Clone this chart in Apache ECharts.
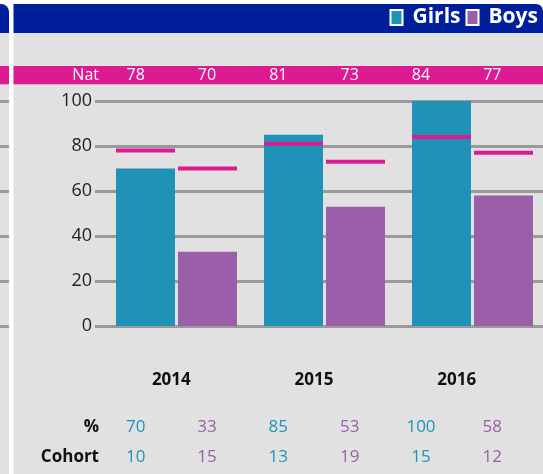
<!DOCTYPE html>
<html>
<head>
<meta charset="utf-8">
<script src="https://cdn.jsdelivr.net/npm/echarts@6/dist/echarts.min.js"></script>
<style>
  html, body { margin: 0; padding: 0; background: #fff; }
  #main { width: 543px; height: 474px; }
</style>
</head>
<body>
<div id="main"></div>
<script>
// data
const years = ['2014', '2015', '2016']
const girls = [70, 85, 100]
const boys = [33, 53, 58]
const natGirls = [78, 81, 84]
const natBoys = [70, 73, 77]
const cohortGirls = [10, 13, 15]
const cohortBoys = [15, 19, 12]

const teal = '#2092b8'
const purple = '#9b5ea8'
const pink = '#dc1b93'
const navy = '#001f9c'
const grey = '#e1e1e1'
const font = 'Open Sans'

// table rows: girls/boys side by side for each year
const natRow = years.flatMap((y, i) => [natGirls[i], natBoys[i]])
const pctRow = years.flatMap((y, i) => [girls[i], boys[i]])
const cohortRow = years.flatMap((y, i) => [cohortGirls[i], cohortBoys[i]])
const cols = natRow.map((v, i) => String(i))

const barW = 59
const barGap = 3

// national marks, one per bar
const natData = []
years.forEach((y, i) => {
    natData.push([i, natGirls[i], 0])
    natData.push([i, natBoys[i], 1])
})

function rowAxis(labels, offset, name, colorFn) {
    return {
        type: 'category', gridIndex: 2, position: 'bottom', offset: offset,
        data: cols,
        axisLine: { show: false }, axisTick: { show: false },
        name: name, nameLocation: 'start', nameGap: 1, nameMoveOverlap: false,
        nameTextStyle: { fontFamily: font, fontSize: 17, fontWeight: 'bold', color: '#111', align: 'right', verticalAlign: 'middle' },
        axisLabel: {
            margin: 0, verticalAlign: 'middle', fontFamily: font, fontSize: 17,
            color: colorFn, formatter: (v, i) => String(labels[i])
        }
    }
}

const chart = echarts.init(document.getElementById('main'))
// Nat row sits on the pink band, above the plot
const natAxis = rowAxis(natRow, -251, '', '#fff')
natAxis.axisLabel.fontSize = 16

const option = {
    backgroundColor: '#fff',
    animation: false,
    graphic: [
        { type: 'rect', z: -10, shape: { x: 0, y: 33, width: 9, height: 441 }, style: { fill: grey } },
        { type: 'rect', z: -10, shape: { x: 13.5, y: 33, width: 530, height: 441 }, style: { fill: grey } },
        { type: 'rect', z: -10, shape: { x: 0, y: 4, width: 9, height: 29, r: [0, 8, 0, 0] }, style: { fill: navy } },
        { type: 'rect', z: -10, shape: { x: 13.5, y: 4, width: 529.5, height: 29, r: [0, 7, 0, 0] }, style: { fill: navy } },
        { type: 'rect', z: -9, shape: { x: 0, y: 66, width: 9, height: 18.3 }, style: { fill: pink } },
        { type: 'rect', z: -9, shape: { x: 13.5, y: 66, width: 530, height: 18.3 }, style: { fill: pink } },
        {
            type: 'text', z: 10, x: 99, y: 75.5,
            style: { text: 'Nat', fill: '#fff', font: '16px "Open Sans"', align: 'right', verticalAlign: 'middle' }
        }
    ],
    legend: {
        data: ['Girls', 'Boys'],
        right: 5, top: 7, padding: 0,
        icon: 'rect', itemWidth: 12, itemHeight: 15, itemGap: 5,
        itemStyle: { borderColor: '#fff', borderWidth: 2 },
        textStyle: { color: '#fff', fontFamily: font, fontSize: 21, fontWeight: 'bold', padding: [0, 0, 0, 5] },
        selectedMode: false
    },
    grid: [
        { left: 95, right: 0, top: 101, height: 225, outerBoundsMode: 'none' },      // gridlines + y labels
        { left: 102.5, width: 444, top: 101, height: 225, outerBoundsMode: 'none' },  // bars
        { left: 100, width: 428, top: 101, height: 225, outerBoundsMode: 'none' },    // table rows
        { left: 0, width: 9, top: 101, height: 225, outerBoundsMode: 'none' }         // left panel stubs
    ],
    xAxis: [
        { type: 'category', gridIndex: 0, data: years, show: false },
        { type: 'category', gridIndex: 1, data: years, show: false },
        natAxis,
        {
            type: 'category', gridIndex: 2, position: 'bottom', offset: 54, data: years,
            axisLine: { show: false }, axisTick: { show: false },
            axisLabel: { margin: 0, verticalAlign: 'middle', fontFamily: font, fontSize: 17, fontWeight: 'bold', color: '#111' }
        },
        rowAxis(pctRow, 101, '%', (v, i) => i % 2 ? purple : teal),
        rowAxis(cohortRow, 131, 'Cohort', (v, i) => i % 2 ? purple : teal),
        { type: 'category', gridIndex: 3, data: years, show: false }
    ],
    yAxis: [
        {
            type: 'value', gridIndex: 0, min: 0, max: 100, interval: 20,
            axisLine: { show: false }, axisTick: { show: false },
            axisLabel: { margin: 3, fontFamily: font, fontSize: 18, color: '#222' },
            splitLine: { lineStyle: { color: '#9a9a9a', width: 3 } }
        },
        { type: 'value', gridIndex: 1, min: 0, max: 100, interval: 20, show: false, splitLine: { show: false } },
        { type: 'value', gridIndex: 2, min: 0, max: 1, show: false, splitLine: { show: false } },
        {
            type: 'value', gridIndex: 3, min: 0, max: 100, interval: 20,
            axisLine: { show: false }, axisTick: { show: false }, axisLabel: { show: false },
            splitLine: { lineStyle: { color: '#9a9a9a', width: 3 } }
        }
    ],
    series: [
        {
            name: 'Girls', type: 'bar', xAxisIndex: 1, yAxisIndex: 1,
            data: girls, barWidth: barW, barGap: (barGap / barW * 100) + '%',
            itemStyle: { color: teal }
        },
        {
            name: 'Boys', type: 'bar', xAxisIndex: 1, yAxisIndex: 1,
            data: boys, barWidth: barW,
            itemStyle: { color: purple }
        },
        {
            name: 'Nat', type: 'custom', xAxisIndex: 1, yAxisIndex: 1,
            data: natData, z: 5,
            renderItem: function (params, api) {
                const p = api.coord([api.value(0), api.value(1)])
                const x = api.value(2) === 0 ? p[0] - barW - barGap / 2 : p[0] + barGap / 2
                return {
                    type: 'rect',
                    shape: { x: x, y: p[1] - 2, width: barW, height: 4 },
                    style: { fill: pink }
                }
            }
        }
    ]
}
chart.setOption(option)
</script>
</body>
</html>
